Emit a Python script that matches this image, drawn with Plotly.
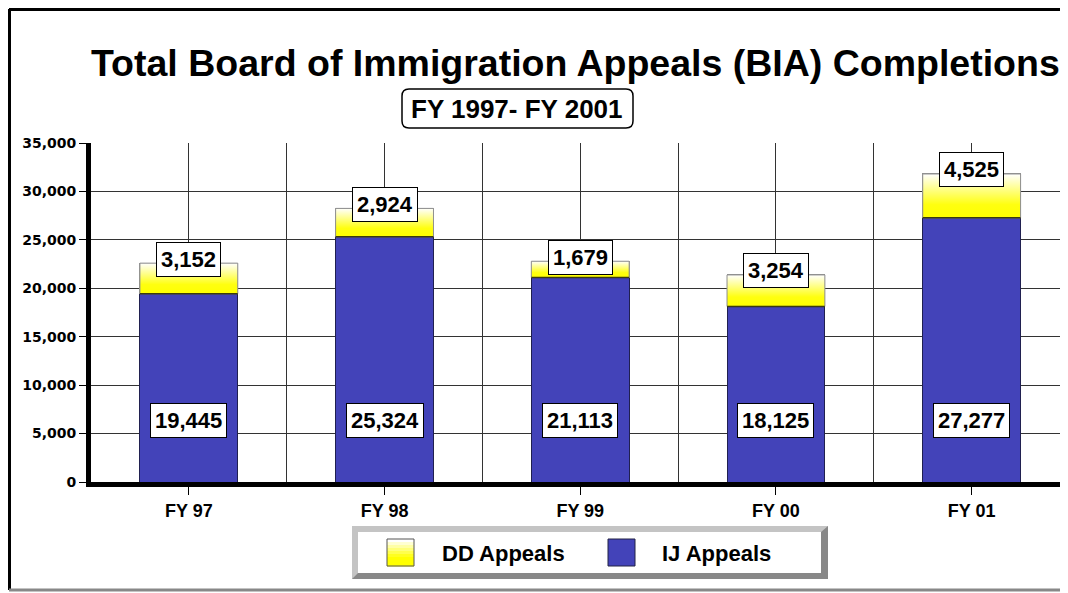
import plotly.graph_objects as go

# data
years = ["FY 97", "FY 98", "FY 99", "FY 00", "FY 01"]
ij_appeals = [19445, 25324, 21113, 18125, 27277]
dd_appeals = [3152, 2924, 1679, 3254, 4525]
y_ticks = [0, 5000, 10000, 15000, 20000, 25000, 30000, 35000]

# the page body adds an 8px margin, so positions are shifted by 8px
OFF = 8
W, H = 1068, 593 - OFF
L, R, T, B = 91 - OFF, 0, 143 - OFF, 593 - 482


def px(x):
    # reference-window pixel -> paper x
    return (x - OFF - L) / (W - L - R)


def py(y):
    return (H - B - (y - OFF)) / (H - T - B)


def rounded_rect(x0, y0, x1, y1, r):
    pts = [
        f"M {px(x0 + r)} {py(y0)}",
        f"L {px(x1 - r)} {py(y0)}",
        f"Q {px(x1)} {py(y0)} {px(x1)} {py(y0 + r)}",
        f"L {px(x1)} {py(y1 - r)}",
        f"Q {px(x1)} {py(y1)} {px(x1 - r)} {py(y1)}",
        f"L {px(x0 + r)} {py(y1)}",
        f"Q {px(x0)} {py(y1)} {px(x0)} {py(y1 - r)}",
        f"L {px(x0)} {py(y0 + r)}",
        f"Q {px(x0)} {py(y0)} {px(x0 + r)} {py(y0)}",
        "Z",
    ]
    return " ".join(pts)


BLUE = "#4343B9"
YELLOW = "#FFFF00"
x_idx = list(range(len(years)))
totals = [a + b for a, b in zip(ij_appeals, dd_appeals)]

fig = go.Figure()
fig.add_trace(go.Bar(x=x_idx, y=ij_appeals, name="IJ Appeals", width=0.5,
                     marker=dict(color=BLUE, line=dict(color="#202050", width=1))))
fig.add_trace(go.Bar(x=x_idx, y=dd_appeals, name="DD Appeals", width=0.5,
                     marker=dict(color=YELLOW, line=dict(color="#909090", width=1))))

# white-to-yellow shading on top of each DD segment
for i, (lo, hi) in enumerate(zip(ij_appeals, totals)):
    fig.add_trace(go.Scatter(
        x=[i - 0.25, i + 0.25, i + 0.25, i - 0.25, i - 0.25],
        y=[lo, lo, hi, hi, lo],
        mode="lines", fill="toself",
        line=dict(color="#909090", width=1),
        fillgradient=dict(type="vertical",
                          colorscale=[[0, YELLOW], [0.3, "#FFFF10"], [1, "#FFFFFF"]]),
        hoverinfo="skip", showlegend=False))
    fig.add_trace(go.Scatter(x=[i - 0.25, i + 0.25], y=[lo, lo], mode="lines",
                             line=dict(color="#3a3a10", width=1.5),
                             hoverinfo="skip", showlegend=False))

label_font = dict(family="Liberation Sans, Arial", size=22, color="black")
for i in x_idx:
    fig.add_annotation(x=i, y=totals[i], text=f"<b>{dd_appeals[i]:,}</b>", showarrow=False,
                       font=label_font, bgcolor="white", bordercolor="black",
                       borderwidth=1, borderpad=4, yshift=4)
    fig.add_annotation(x=i, y=6300, text=f"<b>{ij_appeals[i]:,}</b>", showarrow=False,
                       font=label_font, bgcolor="white", bordercolor="black",
                       borderwidth=1, borderpad=4)

# titles
fig.add_annotation(xref="paper", yref="paper", x=px(575), y=py(63),
                   text="<b>Total Board of Immigration Appeals (BIA) Completions</b>",
                   showarrow=False, xanchor="center", yanchor="middle",
                   font=dict(family="Liberation Sans, Arial", size=37.5, color="black"))
fig.add_annotation(xref="paper", yref="paper", x=px(517), y=py(109),
                   text="<b>FY 1997- FY 2001</b>", showarrow=False,
                   xanchor="center", yanchor="middle",
                   font=dict(family="Liberation Sans, Arial", size=26, color="black"))

shapes = []
shapes.append(dict(type="path", xref="paper", yref="paper",
                   path=rounded_rect(402, 89, 633, 128, 7),
                   line=dict(color="black", width=1.5), fillcolor="white", layer="below"))

# outer frame
shapes.append(dict(type="line", xref="paper", yref="paper", x0=px(9), x1=px(1080),
                   y0=py(9), y1=py(9), line=dict(color="black", width=4)))
shapes.append(dict(type="line", xref="paper", yref="paper", x0=px(9), x1=px(9),
                   y0=py(9), y1=py(590), line=dict(color="black", width=4)))
shapes.append(dict(type="line", xref="paper", yref="paper", x0=px(9), x1=px(1080),
                   y0=py(590), y1=py(590), line=dict(color="#888888", width=3)))

# legend box with bevel
shapes.append(dict(type="rect", xref="paper", yref="paper", x0=px(352), x1=px(828),
                   y0=py(526), y1=py(579), fillcolor="#C4C4C4", line=dict(width=0)))
bevel = (f"M {px(828)} {py(526)} L {px(828)} {py(579)} L {px(352)} {py(579)} "
         f"L {px(358)} {py(573)} L {px(821)} {py(573)} L {px(821)} {py(532)} Z")
shapes.append(dict(type="path", xref="paper", yref="paper", path=bevel,
                   fillcolor="#888888", line=dict(width=0)))
shapes.append(dict(type="rect", xref="paper", yref="paper", x0=px(358), x1=px(821),
                   y0=py(532), y1=py(573), fillcolor="white", line=dict(width=0)))

# DD legend swatch, stepped white -> yellow
steps = 9
for k in range(steps):
    t = k / (steps - 1)
    blue_ch = int(255 * (1 - min(1, t * 1.4)))
    y0 = 539 + k * 27 / steps
    shapes.append(dict(type="rect", xref="paper", yref="paper", x0=px(387), x1=px(414),
                       y0=py(y0), y1=py(y0 + 27 / steps + 0.5),
                       fillcolor=f"rgb(255,255,{blue_ch})", line=dict(width=0)))
shapes.append(dict(type="rect", xref="paper", yref="paper", x0=px(387), x1=px(414),
                   y0=py(539), y1=py(566), line=dict(color="#555555", width=1)))
shapes.append(dict(type="rect", xref="paper", yref="paper", x0=px(608), x1=px(635),
                   y0=py(539), y1=py(566), fillcolor=BLUE,
                   line=dict(color="#222244", width=1)))
fig.update_layout(shapes=shapes)

leg_font = dict(family="Liberation Sans, Arial", size=22, color="black")
fig.add_annotation(xref="paper", yref="paper", x=px(440), y=py(553), text="<b>DD Appeals</b>",
                   showarrow=False, xanchor="left", yanchor="middle", font=leg_font)
fig.add_annotation(xref="paper", yref="paper", x=px(660), y=py(553), text="<b>IJ Appeals</b>",
                   showarrow=False, xanchor="left", yanchor="middle", font=leg_font)

fig.update_layout(
    width=W, height=H,
    margin=dict(l=L, r=R, t=T, b=B, pad=0),
    barmode="stack",
    plot_bgcolor="white", paper_bgcolor="white",
    showlegend=False,
)
fig.update_xaxes(
    range=[-0.5, -0.5 + (W - L - R) / 195.7],
    tickvals=x_idx, ticktext=[f"<b>{y}</b>" for y in years],
    showgrid=True, gridcolor="#333333", gridwidth=1,
    minor=dict(tick0=0.5, dtick=1, showgrid=True, gridcolor="#333333", gridwidth=1, ticklen=0),
    showline=True, linecolor="black", linewidth=5,
    ticks="outside", ticklen=8, tickcolor="black", tickwidth=1,
    tickfont=dict(family="Liberation Sans, Arial", size=18, color="black"),
    zeroline=False,
)
fig.update_yaxes(
    range=[0, 35000], tickvals=y_ticks,
    ticktext=[f"<b>{v:,}</b>" for v in y_ticks],
    showgrid=True, gridcolor="#333333", gridwidth=1,
    showline=True, linecolor="black", linewidth=5,
    ticks="outside", ticklen=7, tickcolor="black", tickwidth=1,
    tickfont=dict(family="DejaVu Sans", size=14, color="black"),
    zeroline=False,
)

fig.write_html("out.html")
